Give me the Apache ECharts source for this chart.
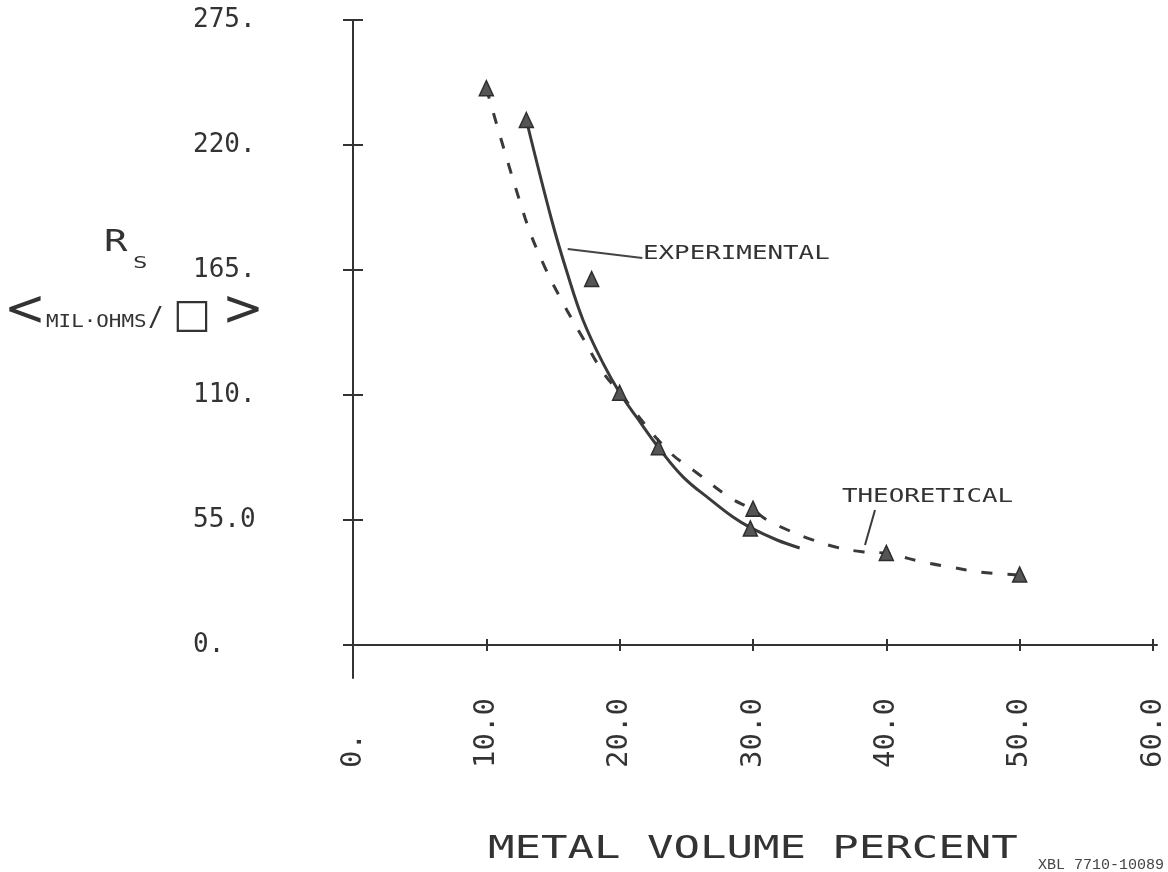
<!DOCTYPE html>
<html>
<head>
<meta charset="utf-8">
<title>Sheet resistance vs metal volume percent</title>
<script src="https://cdn.jsdelivr.net/npm/echarts@6/dist/echarts.min.js"></script>
<style>
  html, body { margin: 0; padding: 0; background: #ffffff; }
  #chart { width: 1168px; height: 872px; }
</style>
</head>
<body>
<div id="chart"></div>
<script>
// Tick positions and their plotter-style labels
const xTickValues = [0, 10, 20, 30, 40, 50, 60];
const xTickLabels = ['0.', '10.0', '20.0', '30.0', '40.0', '50.0', '60.0'];
const yTickValues = [0, 55, 110, 165, 220, 275];
const yTickLabels = ['0.', '55.0', '110.', '165.', '220.', '275.'];

// Theoretical curve (dashed) and its computed points
const theoreticalCurve = [
  [10.0, 245], [12.9, 188], [14.25, 168], [15.75, 150.5], [17.25, 135],
  [18.75, 120], [20.0, 111], [23.55, 86], [25.8, 75.7], [28.3, 64.7],
  [30.0, 59.5], [31.05, 55], [32.6, 50.6], [34.3, 46.6], [36.2, 43.1],
  [38.2, 41], [40.0, 40.3], [42.75, 36.5], [44.8, 34.3], [47.0, 32.1],
  [50.0, 30.8]
];
const theoreticalPoints = [[10, 245], [20, 111], [30, 60], [40, 40.5], [50, 31]];

// Experimental fit (solid) and measured points
const experimentalCurve = [
  [13.0, 231], [14.9, 187], [16.05, 164], [17.25, 143], [18.75, 124],
  [20.0, 111], [21.3, 100], [22.9, 87], [24.75, 74], [26.8, 64],
  [28.5, 56.3], [29.85, 51.5], [31.8, 46.2], [33.5, 42.7]
];
const experimentalPoints = [[13, 231], [17.9, 161], [22.9, 87], [29.8, 51.3]];

const ink = '#333333';
const mono = '"DejaVu Sans Mono", monospace';

const chart = echarts.init(document.getElementById('chart'), null, { renderer: 'canvas' });

const xLabelOf = v => xTickLabels[xTickValues.indexOf(v)];
const yLabelOf = v => yTickLabels[yTickValues.indexOf(v)];

const axisLineStyle = { color: ink, width: 2 };

chart.setOption({
  animation: false,
  backgroundColor: '#ffffff',
  grid: { left: 345, top: 20, width: 812, height: 658, containLabel: false },
  xAxis: [
    {
      type: 'value', min: -0.6, max: 60.3, position: 'bottom',
      axisLine: { show: true, onZero: true, onZeroAxisIndex: 0, lineStyle: axisLineStyle },
      axisTick: { show: true, inside: false, length: 6, customValues: xTickValues, lineStyle: { color: ink, width: 2 } },
      axisLabel: {
        show: true, customValues: xTickValues, rotate: 90, align: 'left', margin: 90,
        formatter: xLabelOf, fontFamily: mono, fontSize: 29, color: ink
      },
      splitLine: { show: false }
    },
    {
      type: 'value', min: -0.6, max: 60.3, position: 'bottom',
      axisLine: { show: false, onZero: true, onZeroAxisIndex: 0 },
      axisTick: { show: true, inside: true, length: 6, customValues: xTickValues, lineStyle: { color: ink, width: 2 } },
      axisLabel: { show: false },
      splitLine: { show: false }
    }
  ],
  yAxis: [
    {
      type: 'value', min: -14.52, max: 275, position: 'left',
      axisLine: { show: true, onZero: true, onZeroAxisIndex: 0, lineStyle: axisLineStyle },
      axisTick: { show: true, inside: false, length: 10, customValues: yTickValues, lineStyle: { color: ink, width: 2 } },
      axisLabel: {
        show: true, customValues: yTickValues, align: 'left', margin: 152,
        formatter: yLabelOf, fontFamily: mono, fontSize: 26, color: ink
      },
      splitLine: { show: false }
    },
    {
      type: 'value', min: -14.52, max: 275, position: 'left',
      axisLine: { show: false, onZero: true, onZeroAxisIndex: 0 },
      axisTick: { show: true, inside: true, length: 10, customValues: yTickValues, lineStyle: { color: ink, width: 2 } },
      axisLabel: { show: false },
      splitLine: { show: false }
    }
  ],
  series: [
    {
      name: 'THEORETICAL', type: 'line', data: theoreticalCurve,
      smooth: 0.4, symbol: 'none',
      lineStyle: { color: '#3a3a3a', width: 3, type: [11, 15] },
      markLine: {
        silent: true, symbol: 'none', animation: false,
        label: { show: false },
        lineStyle: { type: 'solid', color: '#3a3a3a', width: 2 },
        data: [[{ coord: [39.15, 59.4] }, { coord: [38.4, 44.0] }]]
      },
      z: 3
    },
    {
      name: 'EXPERIMENTAL', type: 'line', data: experimentalCurve,
      smooth: 0.4, symbol: 'none',
      lineStyle: { color: '#3a3a3a', width: 3 },
      markLine: {
        silent: true, symbol: 'none', animation: false,
        label: { show: false },
        lineStyle: { type: 'solid', color: '#444444', width: 2 },
        data: [[{ coord: [16.1, 174.2] }, { coord: [21.7, 170.3] }]]
      },
      z: 3
    },
    {
      name: 'theoretical points', type: 'scatter', data: theoreticalPoints,
      symbol: 'triangle', symbolSize: [14, 15],
      itemStyle: { color: '#555555', borderColor: '#2e2e2e', borderWidth: 1.5, opacity: 1 },
      z: 4
    },
    {
      name: 'experimental points', type: 'scatter', data: experimentalPoints,
      symbol: 'triangle', symbolSize: [14, 15],
      itemStyle: { color: '#555555', borderColor: '#2e2e2e', borderWidth: 1.5, opacity: 1 },
      z: 4
    }
  ],
  graphic: [
    // axis title
    { type: 'text', x: 488, y: 850, scaleX: 1.375,
      style: { text: 'METAL VOLUME PERCENT', font: '32px ' + mono, fill: ink, align: 'left', verticalAlign: 'middle', textAlign: 'left', textVerticalAlign: 'middle' } },
    // y-axis quantity R_s
    { type: 'text', x: 104, y: 243, scaleX: 1.3,
      style: { text: 'R', font: '30px ' + mono, fill: ink, align: 'left', verticalAlign: 'middle', textAlign: 'left', textVerticalAlign: 'middle' } },
    { type: 'text', x: 133, y: 264, scaleX: 1.5,
      style: { text: 'S', font: '16px ' + mono, fill: ink, align: 'left', verticalAlign: 'middle', textAlign: 'left', textVerticalAlign: 'middle' } },
    // units
    { type: 'text', x: 4, y: 312,
      style: { text: '<', font: '50px "DejaVu Sans"', fill: ink, align: 'left', verticalAlign: 'middle', textAlign: 'left', textVerticalAlign: 'middle' } },
    { type: 'text', x: 46, y: 322, scaleX: 1.16,
      style: { text: 'MIL·OHMS', font: '18px ' + mono, fill: ink, align: 'left', verticalAlign: 'middle', textAlign: 'left', textVerticalAlign: 'middle' } },
    { type: 'text', x: 148, y: 319,
      style: { text: '/', font: '26px ' + mono, fill: ink, align: 'left', verticalAlign: 'middle', textAlign: 'left', textVerticalAlign: 'middle' } },
    { type: 'text', x: 173, y: 317,
      style: { text: '□', font: '40px "DejaVu Sans"', fill: ink, align: 'left', verticalAlign: 'middle', textAlign: 'left', textVerticalAlign: 'middle' } },
    { type: 'text', x: 222, y: 312,
      style: { text: '>', font: '50px "DejaVu Sans"', fill: ink, align: 'left', verticalAlign: 'middle', textAlign: 'left', textVerticalAlign: 'middle' } },
    // curve annotations
    { type: 'text', x: 643, y: 254, scaleX: 1.36,
      style: { text: 'EXPERIMENTAL', font: '19px ' + mono, fill: ink, align: 'left', verticalAlign: 'middle', textAlign: 'left', textVerticalAlign: 'middle' } },
    { type: 'text', x: 842, y: 497, scaleX: 1.36,
      style: { text: 'THEORETICAL', font: '19px ' + mono, fill: ink, align: 'left', verticalAlign: 'middle', textAlign: 'left', textVerticalAlign: 'middle' } },
    // figure number
    { type: 'text', x: 1038, y: 858,
      style: { text: 'XBL 7710-10089', font: '15px "Liberation Mono", monospace', fill: '#444444', align: 'left', verticalAlign: 'top', textAlign: 'left', textVerticalAlign: 'top' } }
  ]
});
</script>
</body>
</html>
